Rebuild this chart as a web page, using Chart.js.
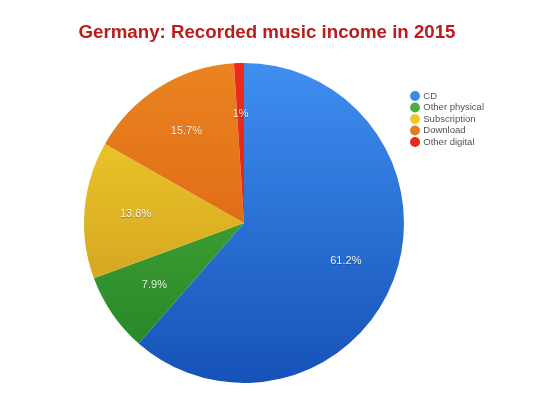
<!DOCTYPE html>
<html>
<head>
<meta charset="utf-8">
<script src="https://cdn.jsdelivr.net/npm/chart.js@4/dist/chart.umd.min.js"></script>
<style>
    html, body { margin: 0; padding: 0; background: #fff; }
    #wrap { width: 533px; height: 400px; }
</style>
</head>
<body>
<div id="wrap"><canvas id="diagram" width="533" height="400"></canvas></div>
<script>
// Kategorier och andelar (procent)
const categories = ['CD', 'Other physical', 'Subscription', 'Download', 'Other digital'];
const shares = [61.2, 7.9, 13.8, 15.7, 1];
const shareLabels = ['61.2%', '7.9%', '13.8%', '15.7%', '1%'];

// Ljus och mörk ton per tårtbit (övre/nedre delen av gradienten)
const lightColors = ['#3f8ff0', '#52b63e', '#f3d52a', '#ea8420', '#ee2a1c'];
const darkColors = ['#1652b8', '#238226', '#c8901e', '#d8560f', '#d8201a'];

window.onload = init;

function init() {
    createChartPie();
}

/**
* Skapar en vertikal gradient för en tårtbit
*/
function sliceGradient(context) {
    const chart = context.chart;
    const area = chart.chartArea;
    const i = context.dataIndex;
    if (!area) {
        return lightColors[i];
    }
    const g = chart.ctx.createLinearGradient(0, area.top, 0, area.bottom);
    g.addColorStop(0, lightColors[i]);
    g.addColorStop(1, darkColors[i]);
    return g;
}

// Ritar procenttexten inne i varje tårtbit
const sliceLabels = {
    id: 'sliceLabels',
    afterDatasetsDraw(chart) {
        const ctx = chart.ctx;
        const meta = chart.getDatasetMeta(0);
        ctx.save();
        ctx.font = '11px "Liberation Sans", Arial, sans-serif';
        ctx.fillStyle = 'rgba(255,255,255,0.92)';
        ctx.textAlign = 'center';
        ctx.textBaseline = 'middle';
        ctx.shadowColor = 'rgba(0,0,0,0.35)';
        ctx.shadowBlur = 1;
        ctx.shadowOffsetY = 0.5;
        meta.data.forEach((arc, i) => {
            const p = arc.getProps(['x', 'y', 'startAngle', 'endAngle', 'outerRadius'], true);
            const mid = (p.startAngle + p.endAngle) / 2;
            const r = p.outerRadius * 0.68;
            ctx.fillText(shareLabels[i], p.x + Math.cos(mid) * r, p.y + Math.sin(mid) * r);
        });
        ctx.restore();
    }
};

function createChartPie() {
    const ctx = document.getElementById('diagram').getContext('2d');

    new Chart(ctx, {
        type: 'pie',
        data: {
            labels: categories,
            datasets: [
                {
                    data: shares,
                    backgroundColor: sliceGradient,
                    borderWidth: 0
                }
            ]
        },
        options: {
            responsive: false,
            animation: false,
            layout: {
                padding: { left: 78.5, right: 39, top: 0, bottom: 17 }
            },
            plugins: {
                title: {
                    display: true,
                    align: 'start',
                    text: 'Germany: Recorded music income in 2015',
                    color: '#bb1c1c',
                    font: { family: '"Liberation Sans", Arial, sans-serif', size: 18.7, weight: 'bold' },
                    padding: { top: 21.5, bottom: 19.1 }
                },
                legend: {
                    position: 'right',
                    align: 'start',
                    fullSize: false,
                    title: {
                        display: true,
                        text: ' ',
                        padding: { top: 19, bottom: 0 },
                        font: { size: 6 }
                    },
                    labels: {
                        usePointStyle: true,
                        pointStyle: 'circle',
                        boxWidth: 7,
                        boxHeight: 7,
                        padding: 2,
                        color: '#555',
                        font: { family: '"Liberation Sans", Arial, sans-serif', size: 9.5 }
                    }
                },
                tooltip: { enabled: false }
            }
        },
        plugins: [sliceLabels]
    });
}
</script>
</body>
</html>
